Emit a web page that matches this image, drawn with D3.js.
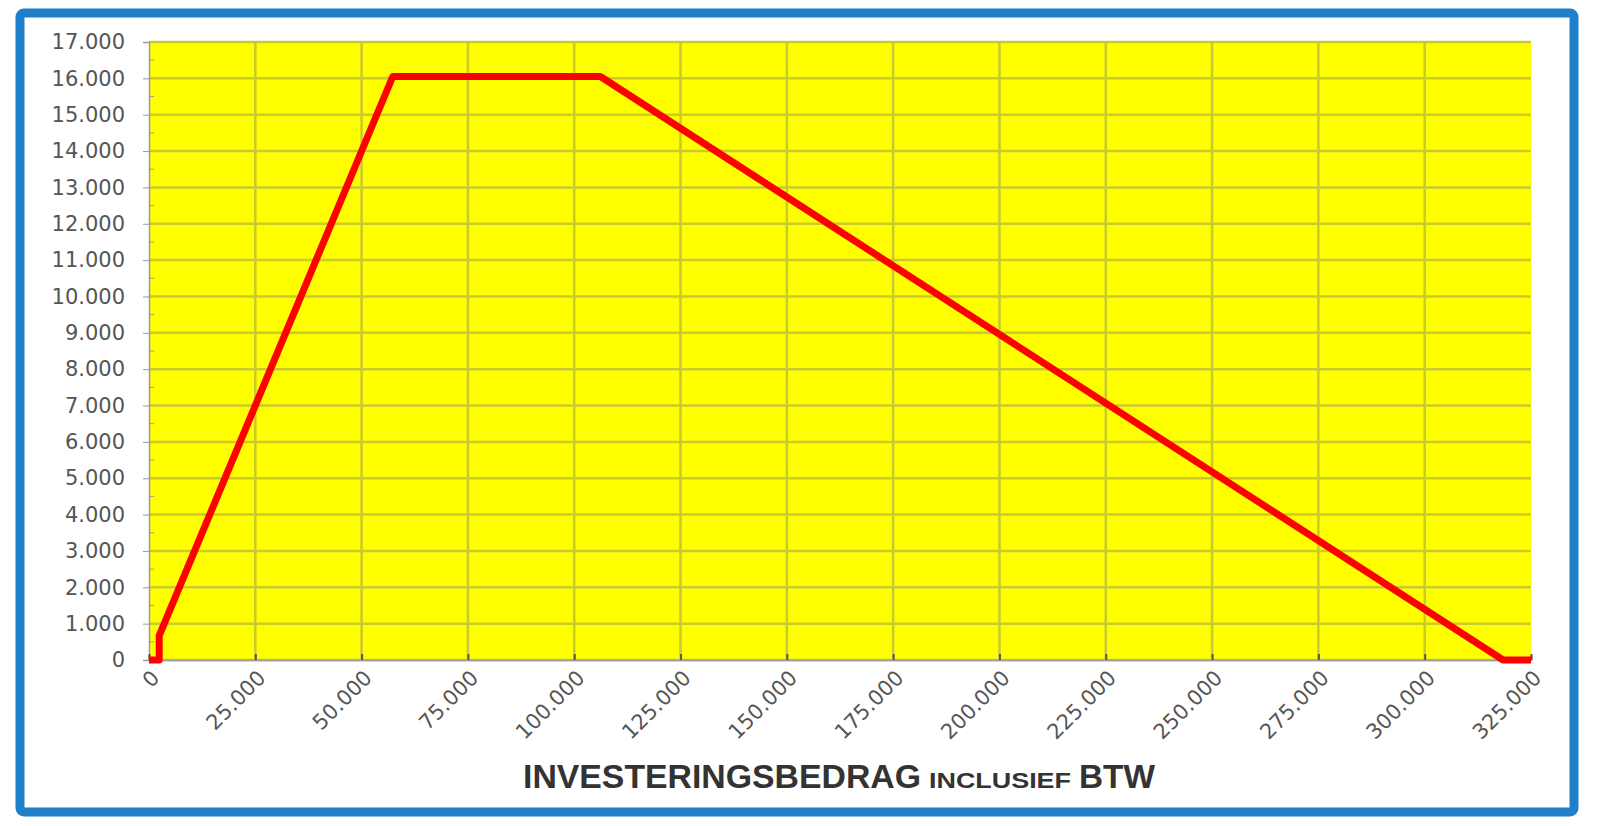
<!DOCTYPE html>
<html>
<head>
<meta charset="utf-8">
<script src="https://cdn.jsdelivr.net/npm/d3@7"></script>
<style>
  body { margin: 0; background: #fff; }
  svg { display: block; }
</style>
</head>
<body>
<script>
// investment amount (x) -> deduction (y)
const investering = [0, 2400, 2401, 57321, 106150, 318449, 325000];
const aftrek      = [0, 0, 672, 16051, 16051, 0, 0];

const xTicks = d3.range(0, 325001, 25000);
const yTicks = d3.range(0, 17001, 1000);

const titleParts = [
  {text: "INVESTERINGSBEDRAG ", size: 34, len: 406},
  {text: "INCLUSIEF ", size: 22, len: 150},
  {text: "BTW", size: 34, len: 84}
];

const width = 1600, height = 826;
const margin = {left: 149, right: 69, top: 42, bottom: 166};

const fmt = d3.format(",.0f");
const nl = v => fmt(v).replace(/,/g, ".");

const svg = d3.select("body").append("svg")
    .attr("width", width)
    .attr("height", height);

// outer frame
svg.append("rect")
    .attr("x", 20).attr("y", 13)
    .attr("width", 1554).attr("height", 799)
    .attr("rx", 4)
    .attr("fill", "#fff")
    .attr("stroke", "#1f7fc8")
    .attr("stroke-width", 9);

const x = d3.scaleLinear().domain([0, 325000]).range([margin.left, width - margin.right]);
const y = d3.scaleLinear().domain([0, 17000]).range([height - margin.bottom, margin.top]);

// plot background
svg.append("rect")
    .attr("x", x(0)).attr("y", y(17000))
    .attr("width", x(325000) - x(0))
    .attr("height", y(0) - y(17000))
    .attr("fill", "#ffff00");

// grid
svg.append("g")
    .attr("stroke", "#c9c930")
    .attr("stroke-width", 2.5)
  .selectAll("line.h")
  .data(yTicks)
  .join("line")
    .attr("x1", x(0)).attr("x2", x(325000))
    .attr("y1", d => y(d)).attr("y2", d => y(d));

svg.append("g")
    .attr("stroke", "#c9c930")
    .attr("stroke-width", 2.5)
  .selectAll("line.v")
  .data(xTicks.slice(1, -1))
  .join("line")
    .attr("x1", d => x(d)).attr("x2", d => x(d))
    .attr("y1", y(0)).attr("y2", y(17000));

// y axis
const yAxis = svg.append("g")
    .attr("transform", `translate(${x(0)},0)`)
    .call(d3.axisLeft(y).tickValues(yTicks).tickFormat(nl).tickSize(6).tickPadding(18));
yAxis.select(".domain").attr("stroke", "#9a9a9a").attr("stroke-width", 1.5);
yAxis.selectAll(".tick line").attr("stroke", "#9a9a9a");
yAxis.selectAll("text")
    .attr("font-family", "DejaVu Sans")
    .attr("font-size", 21)
    .attr("fill", "#555");

// minor ticks on y axis
svg.append("g")
    .attr("stroke", "#9a9a9a")
    .selectAll("line")
    .data(d3.range(500, 17000, 1000))
    .join("line")
      .attr("x1", x(0)).attr("x2", x(0) + 5)
      .attr("y1", d => y(d)).attr("y2", d => y(d));

// x axis
const xAxis = svg.append("g")
    .attr("transform", `translate(0,${y(0)})`)
    .call(d3.axisBottom(x).tickValues(xTicks).tickFormat(nl).tickSize(-6).tickPadding(0));
xAxis.select(".domain").attr("stroke", "#9a9a9a").attr("stroke-width", 1.5);
xAxis.selectAll(".tick line").attr("stroke", "#555").attr("stroke-width", 2);
xAxis.selectAll("text")
    .attr("font-family", "DejaVu Sans")
    .attr("font-size", 21)
    .attr("fill", "#555")
    .attr("text-anchor", "end")
    .attr("dy", "0.35em")
    .attr("transform", "translate(6,14) rotate(-45)");

// the line
const line = d3.line()
    .x((d, i) => x(investering[i]))
    .y(d => y(d));

svg.append("path")
    .datum(aftrek)
    .attr("fill", "none")
    .attr("stroke", "#ff0000")
    .attr("stroke-width", 7)
    .attr("stroke-linejoin", "round")
    .attr("d", line);

// axis title
const title = svg.append("text")
    .attr("x", 523)
    .attr("y", 788)
    .attr("font-family", "Liberation Sans, Arial, sans-serif")
    .attr("font-weight", "bold")
    .attr("fill", "#333");

let cx = 523;
titleParts.forEach(p => {
  title.append("tspan")
      .attr("x", cx)
      .attr("font-size", p.size)
      .attr("textLength", p.len - 8)
      .attr("lengthAdjust", "spacingAndGlyphs")
      .text(p.text.trim());
  cx += p.len;
});
</script>
</body>
</html>
